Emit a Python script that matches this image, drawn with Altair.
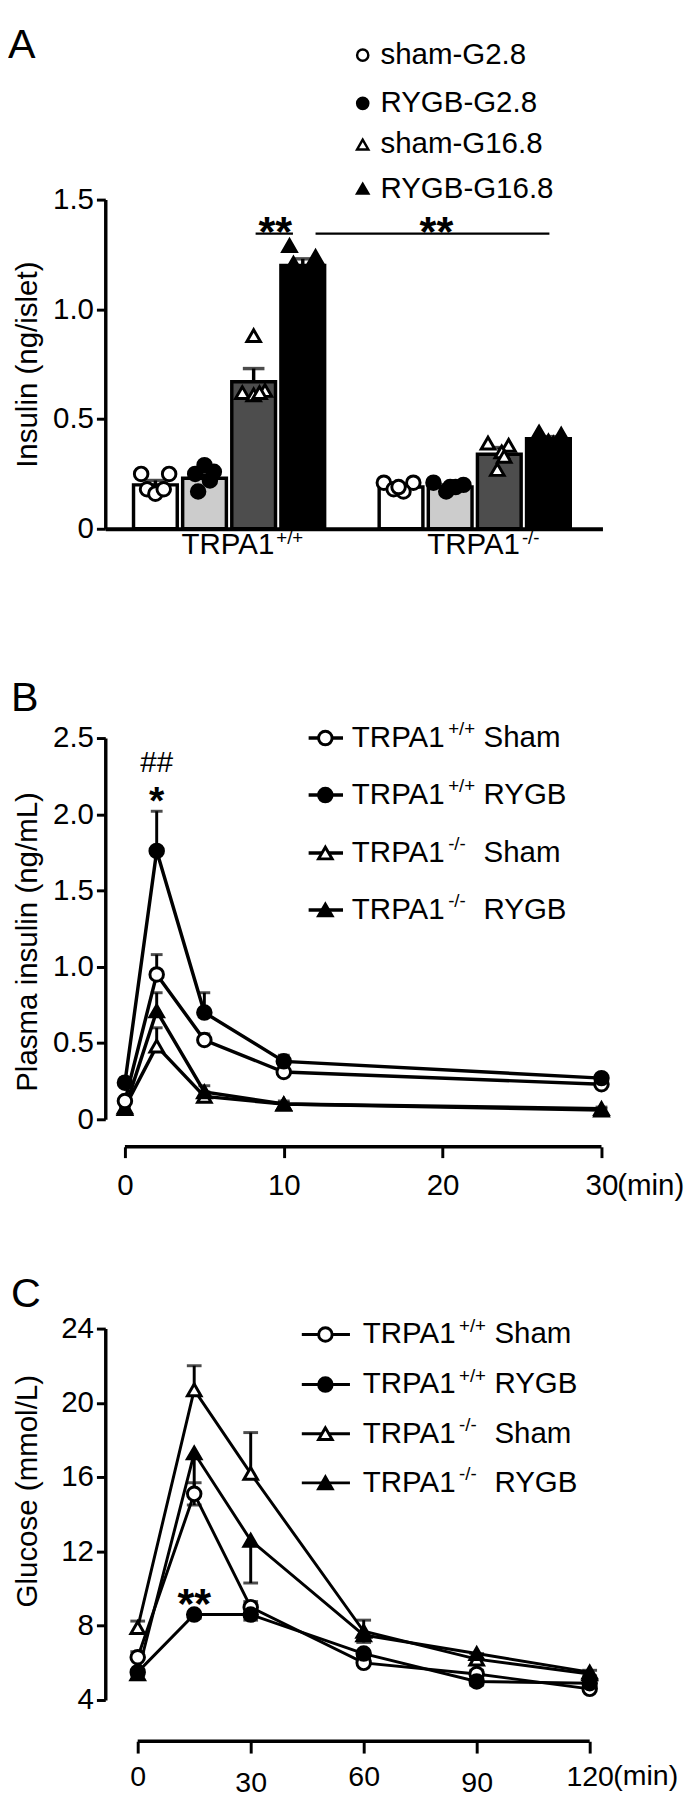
import altair as alt
import pandas as pd

FONT = "Liberation Sans"
LBL_1DEC = "datum.value == 0 ? '0' : format(datum.value, '.1f')"

# ======================= Panel A : islet insulin =======================
genotypes = ["TRPA1+/+", "TRPA1-/-"]
geno_main = ["TRPA1", "TRPA1"]
geno_sup = ["+/+", "-/-"]
conditions = ["sham-G2.8", "RYGB-G2.8", "sham-G16.8", "RYGB-G16.8"]
bar_fills = ["#ffffff", "#cccccc", "#4d4d4d", "#000000"]
dot_fills = ["#ffffff", "#000000", "#ffffff", "#000000"]
dot_shapes = ["circle", "circle", "triangle-up", "triangle-up"]
dot_sizes = [190, 190, 260, 260]

a_mean_wt = [0.20, 0.23, 0.67, 1.20]
a_sem_wt = [0.02, 0.02, 0.06, 0.03]
a_mean_ko = [0.19, 0.19, 0.34, 0.41]
a_sem_ko = [0.01, 0.01, 0.03, 0.01]

a_pts_wt = [
    [0.25, 0.25, 0.18, 0.16, 0.18],
    [0.29, 0.25, 0.26, 0.22, 0.17],
    [0.88, 0.62, 0.61, 0.63, 0.62],
    [1.29, 1.24, 1.21, 1.15, 1.13],
]
a_jit_wt = [
    [-0.29, 0.28, -0.17, 0.0, 0.17],
    [0.0, -0.19, 0.19, 0.11, -0.13],
    [0.0, -0.23, 0.0, 0.23, 0.12],
    [-0.27, 0.26, -0.19, 0.1, -0.1],
]
a_pts_ko = [
    [0.21, 0.21, 0.18, 0.17, 0.19],
    [0.21, 0.20, 0.17, 0.19, 0.19],
    [0.39, 0.38, 0.27, 0.35, 0.33],
    [0.44, 0.43, 0.40, 0.39, 0.38],
]
a_jit_ko = [
    [-0.35, 0.25, -0.15, 0.05, -0.05],
    [-0.34, 0.27, -0.08, 0.11, 0.0],
    [-0.23, 0.19, -0.04, 0.05, 0.1],
    [-0.19, 0.26, 0.0, 0.1, -0.1],
]
a_yticks = [0, 0.5, 1.0, 1.5]

# ======================= Panel B : plasma insulin =======================
b_time = [0, 2, 5, 10, 30]
b_wt_sham = [0.12, 0.95, 0.52, 0.31, 0.23]
b_wt_sham_sem = [0.02, 0.13, 0.04, 0.03, 0.02]
b_wt_rygb = [0.24, 1.76, 0.70, 0.38, 0.27]
b_wt_rygb_sem = [0.03, 0.26, 0.13, 0.04, 0.02]
b_ko_sham = [0.08, 0.48, 0.15, 0.10, 0.06]
b_ko_sham_sem = [0.01, 0.12, 0.03, 0.01, 0.01]
b_ko_rygb = [0.07, 0.71, 0.18, 0.10, 0.07]
b_ko_rygb_sem = [0.01, 0.12, 0.04, 0.02, 0.01]
b_yticks = [0, 0.5, 1.0, 1.5, 2.0, 2.5]
b_xticks = [0, 10, 20, 30]

# ======================= Panel C : glucose =======================
c_time = [0, 15, 30, 60, 90, 120]
c_wt_sham = [6.3, 15.1, 9.0, 6.0, 5.4, 4.6]
c_wt_sham_sem = [0.3, 0.6, 0.3, 0.2, 0.2, 0.2]
c_wt_rygb = [5.5, 8.6, 8.6, 6.5, 5.0, 4.9]
c_wt_rygb_sem = [0.2, 0.2, 0.3, 0.2, 0.2, 0.2]
c_ko_sham = [7.9, 20.7, 16.2, 7.7, 6.2, 5.4]
c_ko_sham_sem = [0.35, 1.3, 2.2, 0.6, 0.3, 0.2]
c_ko_rygb = [5.4, 17.3, 12.6, 7.5, 6.5, 5.5]
c_ko_rygb_sem = [0.3, 2.8, 2.3, 0.4, 0.3, 0.2]
c_yticks = [4, 8, 12, 16, 20, 24]
c_xticks = [0, 30, 60, 90, 120]

series_ids = ["wt_sham", "wt_rygb", "ko_sham", "ko_rygb"]
series_main = ["TRPA1", "TRPA1", "TRPA1", "TRPA1"]
series_sup = ["+/+", "+/+", "-/-", "-/-"]
series_word = ["Sham", "RYGB", "Sham", "RYGB"]
series_shapes = ["circle", "circle", "triangle-up", "triangle-up"]


def T(**kw):
    d = dict(font=FONT, color="black")
    d.update(kw)
    return d


# ----------------------------------------------------------------- Panel A
A_W, A_H = 506, 335
xsA = alt.Scale(domain=[-1.02, 9.1], nice=False, zero=False)
ysA = alt.Scale(domain=[0, 1.5], nice=False, zero=False)
axAx = alt.Axis(title=None, labels=False, ticks=False, domainWidth=4)
axAy = alt.Axis(values=a_yticks, labelExpr=LBL_1DEC, title="Insulin (ng/islet)", titleX=-64)


def XA(f):
    return alt.X(f, type="quantitative", scale=xsA, axis=axAx)


def YA(f):
    return alt.Y(f, type="quantitative", scale=ysA, axis=axAy)


def a_s(px):  # page pixel -> slot units
    return (px - 158) / 50.0


def a_v(py):  # page pixel -> value units
    return (520 - py) / 223.33


bar_rows, pt_rows = [], []
for gi, (means, sems, pts, jits) in enumerate(
    [(a_mean_wt, a_sem_wt, a_pts_wt, a_jit_wt), (a_mean_ko, a_sem_ko, a_pts_ko, a_jit_ko)]
):
    for ci, cond in enumerate(conditions):
        slot = gi * 5 + ci
        bar_rows.append({"cond": cond, "s": slot, "s_lo": slot - 0.445, "s_hi": slot + 0.445,
                         "v": means[ci], "base": 0.0, "top": means[ci] + sems[ci]})
        for val, j in zip(pts[ci], jits[ci]):
            pt_rows.append({"cond": cond, "s": slot + j, "v": val})
df_bars = pd.DataFrame(bar_rows)
df_pts = pd.DataFrame(pt_rows)

fillA = alt.Scale(domain=conditions, range=dot_fills)
shapeA = alt.Scale(domain=conditions, range=dot_shapes)
sizeA = alt.Scale(domain=conditions, range=dot_sizes)

a_bars = alt.Chart(df_bars).mark_bar(stroke="black", strokeWidth=3.5).encode(
    x=XA("s_lo"), x2=alt.X2("s_hi"), y=YA("v"), y2=alt.Y2("base"),
    color=alt.Color("cond:N", scale=alt.Scale(domain=conditions, range=bar_fills), legend=None),
)
a_stem = alt.Chart(df_bars).mark_rule(color="black", strokeWidth=3.5).encode(
    x=XA("s"), y=YA("v"), y2=alt.Y2("top"))
a_cap = alt.Chart(df_bars).mark_tick(color="black", orient="horizontal", size=22, thickness=3.5).encode(
    x=XA("s"), y=YA("top"))
a_dots = alt.Chart(df_pts).mark_point(filled=True, stroke="black", strokeWidth=3, opacity=1).encode(
    x=XA("s"), y=YA("v"),
    fill=alt.Fill("cond:N", scale=fillA, legend=None),
    shape=alt.Shape("cond:N", scale=shapeA, legend=None),
    size=alt.Size("cond:N", scale=sizeA, legend=None),
)

# legend of panel A
legA = pd.DataFrame({
    "cond": conditions,
    "label": conditions,
    "s": [a_s(369)] * 4,
    "ts": [a_s(387)] * 4,
    "v": [a_v(38), a_v(87), a_v(129), a_v(174)],
})
a_leg_m = alt.Chart(legA).mark_point(filled=True, stroke="black", strokeWidth=2.5, opacity=1, size=130).encode(
    x=XA("s"), y=YA("v"),
    fill=alt.Fill("cond:N", scale=fillA, legend=None),
    shape=alt.Shape("cond:N", scale=shapeA, legend=None),
)
a_leg_t = alt.Chart(legA).mark_text(**T(align="left", baseline="middle", fontSize=30)).encode(
    x=XA("ts"), y=YA("v"), text="label:N")

# significance
sigA_lines = pd.DataFrame({"s": [2.04, 3.26], "s2": [2.8, 8.02], "v": [1.345, 1.345]})
sigA_text = pd.DataFrame({"s": [2.44, 5.72], "v": [1.29, 1.29], "label": ["**", "**"]})
a_sig_l = alt.Chart(sigA_lines).mark_rule(color="black", strokeWidth=2.5).encode(
    x=XA("s"), x2=alt.X2("s2"), y=YA("v"))
a_sig_t = alt.Chart(sigA_text).mark_text(**T(align="center", baseline="alphabetic", fontSize=44,
                                             fontWeight="bold")).encode(x=XA("s"), y=YA("v"), text="label:N")

# genotype labels
genoA = pd.DataFrame({"s": [1.5, 6.5], "v": [0.0, 0.0], "main": geno_main, "sup": geno_sup})
a_geno_m = alt.Chart(genoA).mark_text(**T(align="right", baseline="alphabetic", fontSize=30, dx=46, dy=26)).encode(
    x=XA("s"), y=YA("v"), text="main:N")
a_geno_s = alt.Chart(genoA).mark_text(**T(align="left", baseline="alphabetic", fontSize=19, dx=48, dy=16)).encode(
    x=XA("s"), y=YA("v"), text="sup:N")

letterA = pd.DataFrame({"s": [a_s(8)], "v": [a_v(8)], "label": ["A"]})
a_letter = alt.Chart(letterA).mark_text(**T(align="left", baseline="top", fontSize=42)).encode(
    x=XA("s"), y=YA("v"), text="label:N")

panelA = alt.layer(a_bars, a_stem, a_cap, a_dots, a_leg_m, a_leg_t, a_sig_l, a_sig_t,
                   a_geno_m, a_geno_s, a_letter).properties(width=A_W, height=A_H)


# ----------------------------------------------------------------- line panels
def line_panel(letter, letter_tv, times, means, sems, dirs, fills, sizes, xdom, ydom, width, height,
               yticks, ylabel_expr, ytitle, title_y, xticks, x_offset, x_axis_kw, line_w, cap_len,
               leg_v, leg_line, leg_marker, leg_text, annots, min_dx, min_dy, min_font):
    xs = alt.Scale(domain=xdom, nice=False, zero=False)
    ys = alt.Scale(domain=ydom, nice=False, zero=False)
    axx = alt.Axis(values=xticks, title=None, domain=False, offset=x_offset, **x_axis_kw)
    axy_kw = dict(values=yticks, title=ytitle, titleX=-64, titleY=title_y)
    if ylabel_expr:
        axy_kw["labelExpr"] = ylabel_expr
    axy = alt.Axis(**axy_kw)

    def X(f):
        return alt.X(f, type="quantitative", scale=xs, axis=axx)

    def Y(f):
        return alt.Y(f, type="quantitative", scale=ys, axis=axy)

    fill_s = alt.Scale(domain=series_ids, range=fills)
    shape_s = alt.Scale(domain=series_ids, range=series_shapes)
    size_s = alt.Scale(domain=series_ids, range=sizes)

    rows = []
    for k in [2, 3, 0, 1]:
        for t, m, s in zip(times, means[k], sems[k]):
            rows.append({"series": series_ids[k], "t": t, "v": m, "e": m + dirs[k] * s})
    df = pd.DataFrame(rows)

    enc_sym = dict(fill=alt.Fill("series:N", scale=fill_s, legend=None),
                   shape=alt.Shape("series:N", scale=shape_s, legend=None),
                   size=alt.Size("series:N", scale=size_s, legend=None))

    lines = alt.Chart(df).mark_line(color="black", strokeWidth=line_w).encode(
        x=X("t"), y=Y("v"), detail="series:N")
    stem = alt.Chart(df).mark_rule(color="black", strokeWidth=3).encode(x=X("t"), y=Y("v"), y2=alt.Y2("e"))
    cap = alt.Chart(df).mark_tick(color="black", orient="horizontal", size=cap_len, thickness=3).encode(
        x=X("t"), y=Y("e"))
    pts = alt.Chart(df).mark_point(filled=True, stroke="black", strokeWidth=3, opacity=1).encode(
        x=X("t"), y=Y("v"), **enc_sym)

    axis_df = pd.DataFrame({"t": [xticks[0]], "t2": [xticks[-1]]})
    axline = alt.Chart(axis_df).mark_rule(color="black", strokeWidth=3.5).encode(
        x=X("t"), x2=alt.X2("t2"), y=alt.value(height + x_offset))

    leg = pd.DataFrame({
        "series": series_ids, "v": leg_v,
        "l1": [leg_line[0]] * 4, "l2": [leg_line[1]] * 4,
        "m": [leg_marker] * 4, "tx": [leg_text] * 4,
        "main": series_main, "sup": series_sup, "word": series_word,
    })
    leg_l = alt.Chart(leg).mark_rule(color="black", strokeWidth=line_w).encode(
        x=X("l1"), x2=alt.X2("l2"), y=Y("v"))
    leg_m = alt.Chart(leg).mark_point(filled=True, stroke="black", strokeWidth=3, opacity=1).encode(
        x=X("m"), y=Y("v"), **enc_sym)
    leg_t1 = alt.Chart(leg).mark_text(**T(align="left", baseline="middle", fontSize=30)).encode(
        x=X("tx"), y=Y("v"), text="main:N")
    leg_t2 = alt.Chart(leg).mark_text(**T(align="left", baseline="middle", fontSize=19, dx=98, dy=-9)).encode(
        x=X("tx"), y=Y("v"), text="sup:N")
    leg_t3 = alt.Chart(leg).mark_text(**T(align="left", baseline="middle", fontSize=30, dx=134)).encode(
        x=X("tx"), y=Y("v"), text="word:N")

    let_df = pd.DataFrame({"t": [letter_tv[0]], "v": [letter_tv[1]], "label": [letter]})
    let = alt.Chart(let_df).mark_text(**T(align="left", baseline="top", fontSize=42)).encode(
        x=X("t"), y=Y("v"), text="label:N")

    ann_layers = []
    for (t, v, lab, fs, fw) in annots:
        adf = pd.DataFrame({"t": [t], "v": [v], "label": [lab]})
        ann_layers.append(alt.Chart(adf).mark_text(**T(align="center", baseline="alphabetic", fontSize=fs,
                                                       fontWeight=fw)).encode(x=X("t"), y=Y("v"), text="label:N"))

    min_df = pd.DataFrame({"t": [xticks[-1]], "v": [ydom[0]], "label": ["(min)"]})
    minl = alt.Chart(min_df).mark_text(**T(align="left", baseline="top", fontSize=min_font, dx=min_dx, dy=min_dy)).encode(
        x=X("t"), y=Y("v"), text="label:N")

    return alt.layer(lines, stem, cap, pts, axline, leg_l, leg_m, leg_t1, leg_t2, leg_t3, let,
                     *ann_layers, minl).properties(width=width, height=height)


# ----- Panel B calibration (page px -> data)
def b_t(px):
    return (px - 127) / 16.17


def b_v(py):
    return (1115 - py) / 155.2


panelB = line_panel(
    "B", (b_t(11), b_v(666)), b_time,
    [b_wt_sham, b_wt_rygb, b_ko_sham, b_ko_rygb],
    [b_wt_sham_sem, b_wt_rygb_sem, b_ko_sham_sem, b_ko_rygb_sem],
    [1, 1, 1, 1],
    ["#ffffff", "#222222", "#ffffff", "#000000"], [290, 290, 330, 330],
    [b_t(107), 30], [0, 2.5], 505, 388,
    b_yticks, LBL_1DEC, "Plasma insulin (ng/mL)", 207,
    b_xticks, 28, dict(tickSize=11, labelPadding=14, labelFontSize=30),
    3.5, 12,
    [b_v(727), b_v(785), b_v(844), b_v(902)], (b_t(314), b_t(349)), b_t(331), b_t(358),
    [(2, 2.28, "##", 30, "normal"), (2, 2.0, "*", 40, "bold")],
    16, 53, 30,
)


# ----- Panel C calibration
def c_t(px):
    return (px - 140) / 3.833


def c_v(py):
    return 4 + (1713 - py) / 18.9


panelC = line_panel(
    "C", (c_t(11), c_v(1280)), c_time,
    [c_wt_sham, c_wt_rygb, c_ko_sham, c_ko_rygb],
    [c_wt_sham_sem, c_wt_rygb_sem, c_ko_sham_sem, c_ko_rygb_sem],
    [1, -1, 1, -1],
    ["#ffffff", "#000000", "#ffffff", "#000000"], [150, 150, 210, 210],
    [c_t(107), 120], [4, 24], 493, 378,
    c_yticks, None, "Glucose (mmol/L)", 165,
    c_xticks, 42, dict(tickSize=12, labelPadding=10, labelFontSize=29, labelLineHeight=6,
                       labelExpr="(datum.value == 30 || datum.value == 90) ? ['', datum.label] : datum.label"),
    3, 15,
    [c_v(1341), c_v(1392), c_v(1442), c_v(1492)], (c_t(307), c_t(356)), c_t(331), c_t(369),
    [(15, 8.44, "**", 44, "bold")],
    24, 64, 29,
)

chart = alt.vconcat(panelA, panelB, panelC, spacing=213, bounds="flush").properties(
    padding=0
).configure_view(stroke=None).configure_axis(
    domainColor="black", domainWidth=3.5, tickColor="black", tickWidth=3, tickSize=9,
    labelFont=FONT, labelFontSize=30, labelColor="black", labelPadding=3,
    titleFont=FONT, titleFontSize=30, titleFontWeight="normal", titleColor="black",
    grid=False, labelFlush=False, labelOverlap=False,
)

chart.save("out.html", embed_options={"renderer": "svg", "actions": False})
